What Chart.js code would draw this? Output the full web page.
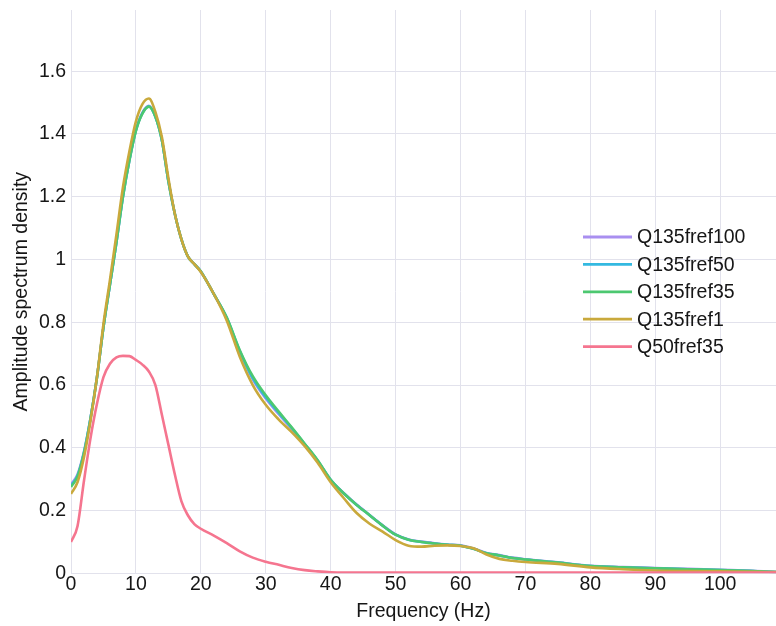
<!DOCTYPE html>
<html>
<head>
<meta charset="utf-8">
<script src="https://cdn.jsdelivr.net/npm/chart.js@4/dist/chart.umd.min.js"></script>
<style>
  html, body { margin: 0; padding: 0; background: #ffffff; }
  #chart { display: block; }
</style>
</head>
<body>
<canvas id="chart" width="776" height="626"></canvas>
<script>
// Frequency samples (Hz) shared by every series
const freqs = [0,1,2,3,4,5,6,7,8,9,10,11,12,13,14,15,16,17,18,19,20,
  22,24,26,28,30,32,34,36,38,40,42,44,46,48,50,52,54,56,58,60,
  62,64,66,68,70,75,80,85,90,95,100,105,108.6];

const seriesNames = ['Q135fref100', 'Q135fref50', 'Q135fref35', 'Q135fref1', 'Q50fref35'];

const q135fref100 = [0.283,0.315,0.388,0.494,0.625,0.784,0.92,1.055,1.2,1.317,1.412,1.468,1.49,1.456,1.381,1.25,1.145,1.065,1.01,0.985,0.962,
  0.89,0.812,0.705,0.618,0.557,0.507,0.46,0.41,0.358,0.298,0.256,0.219,0.186,0.153,0.124,0.108,0.101,0.096,0.092,0.089,
  0.079,0.065,0.058,0.05,0.045,0.035,0.024,0.02,0.017,0.014,0.011,0.008,0.004];

const q135fref50 = [0.279,0.311,0.385,0.493,0.624,0.784,0.92,1.055,1.2,1.316,1.411,1.466,1.488,1.455,1.38,1.25,1.145,1.065,1.01,0.985,0.962,
  0.89,0.814,0.708,0.622,0.561,0.511,0.463,0.412,0.359,0.298,0.255,0.218,0.185,0.152,0.123,0.107,0.1,0.095,0.091,0.088,
  0.078,0.064,0.057,0.049,0.044,0.034,0.023,0.019,0.016,0.013,0.0105,0.007,0.004];

const q135fref35 = [0.275,0.308,0.383,0.492,0.624,0.784,0.92,1.055,1.2,1.316,1.41,1.465,1.487,1.455,1.38,1.25,1.145,1.065,1.01,0.985,0.962,
  0.89,0.815,0.711,0.628,0.567,0.515,0.465,0.413,0.36,0.298,0.255,0.218,0.185,0.152,0.123,0.107,0.1,0.095,0.091,0.088,
  0.078,0.064,0.057,0.049,0.044,0.034,0.023,0.019,0.016,0.013,0.0105,0.007,0.004];

const q135fref1 = [0.253,0.29,0.37,0.485,0.625,0.795,0.935,1.08,1.23,1.345,1.44,1.495,1.513,1.47,1.39,1.26,1.145,1.065,1.01,0.985,0.96,
  0.89,0.805,0.69,0.6,0.537,0.49,0.45,0.405,0.352,0.29,0.24,0.192,0.158,0.133,0.106,0.088,0.085,0.088,0.089,0.087,
  0.08,0.06,0.046,0.04,0.036,0.03,0.019,0.013,0.009,0.007,0.006,0.005,0.004];

const q50fref35 = [0.1,0.15,0.295,0.43,0.54,0.625,0.668,0.688,0.693,0.692,0.68,0.665,0.643,0.6,0.505,0.41,0.315,0.23,0.185,0.157,0.142,
  0.12,0.096,0.07,0.05,0.037,0.027,0.017,0.01,0.006,0.003,0.002,0.002,0.002,0.002,0.002,0.002,0.002,0.002,0.002,0.002,
  0.002,0.002,0.002,0.002,0.002,0.002,0.002,0.002,0.002,0.002,0.002,0.002,0.002];

const xTicks = [0,10,20,30,40,50,60,70,80,90,100];
const yTicks = [0,0.2,0.4,0.6,0.8,1,1.2,1.4,1.6];

const seriesValues = [q135fref100, q135fref50, q135fref35, q135fref1, q50fref35];
const seriesColors = ['#a98ff0', '#33b9e0', '#4cc870', '#c9a93c', '#f5758f'];

const FONT = "'Liberation Sans', Arial, Helvetica, sans-serif";
const FONT_SIZE = 19.5;
const GRID = 'rgb(226,226,236)';
const TEXT = '#161616';

const datasets = seriesNames.map((name, i) => ({
  label: name,
  data: freqs.map((f, j) => ({ x: f, y: seriesValues[i][j] })),
  borderColor: seriesColors[i],
  backgroundColor: seriesColors[i],
  borderWidth: 2.6,
  pointRadius: 0,
  fill: false,
  cubicInterpolationMode: 'monotone',
  // later series are painted over earlier ones
  order: seriesNames.length - i
}));

// Legend drawn inside the plot area, to the right
const insideLegend = {
  id: 'insideLegend',
  afterDatasetsDraw(chart) {
    const ctx = chart.ctx;
    ctx.save();
    ctx.font = FONT_SIZE + 'px ' + FONT;
    ctx.textBaseline = 'middle';
    ctx.textAlign = 'left';
    chart.data.datasets.forEach((ds, i) => {
      const y = 237 + i * 27.4;
      ctx.strokeStyle = ds.borderColor;
      ctx.lineWidth = 2.8;
      ctx.beginPath();
      ctx.moveTo(583, y);
      ctx.lineTo(632, y);
      ctx.stroke();
      ctx.fillStyle = TEXT;
      ctx.fillText(ds.label, 637, y + 1);
    });
    ctx.restore();
  }
};

new Chart(document.getElementById('chart'), {
  type: 'line',
  data: { datasets },
  plugins: [insideLegend],
  options: {
    responsive: false,
    animation: false,
    layout: { padding: { top: 10, right: 0, left: 0, bottom: 0 } },
    plugins: {
      legend: { display: false },
      tooltip: { enabled: false }
    },
    scales: {
      x: {
        type: 'linear',
        min: 0,
        max: 108.6,
        afterBuildTicks(scale) { scale.ticks = xTicks.map(v => ({ value: v })); },
        afterFit(scale) {
          scale.height = 52.7;
          scale.paddingLeft = 0;
          scale.paddingRight = 0;
        },
        grid: { color: GRID, lineWidth: 1, drawTicks: false },
        border: { color: GRID, width: 1 },
        ticks: {
          color: TEXT,
          font: { family: FONT, size: FONT_SIZE },
          padding: 0,
          maxRotation: 0,
          callback: v => String(v)
        },
        title: {
          display: true,
          text: 'Frequency (Hz)',
          color: TEXT,
          font: { family: FONT, size: FONT_SIZE },
          padding: { top: 0, bottom: 3 }
        }
      },
      y: {
        type: 'linear',
        min: 0,
        max: 1.795,
        afterBuildTicks(scale) { scale.ticks = yTicks.map(v => ({ value: v })); },
        afterFit(scale) {
          scale.width = 71;
          scale.paddingTop = 0;
          scale.paddingBottom = 0;
        },
        grid: { color: GRID, lineWidth: 1, drawTicks: false },
        border: { color: GRID, width: 1 },
        ticks: {
          color: TEXT,
          font: { family: FONT, size: FONT_SIZE },
          padding: 5,
          callback: v => String(Math.round(v * 10) / 10)
        },
        title: {
          display: true,
          text: 'Amplitude spectrum density',
          color: TEXT,
          font: { family: FONT, size: FONT_SIZE },
          padding: { top: 10, bottom: 0 }
        }
      }
    }
  }
});
</script>
</body>
</html>
